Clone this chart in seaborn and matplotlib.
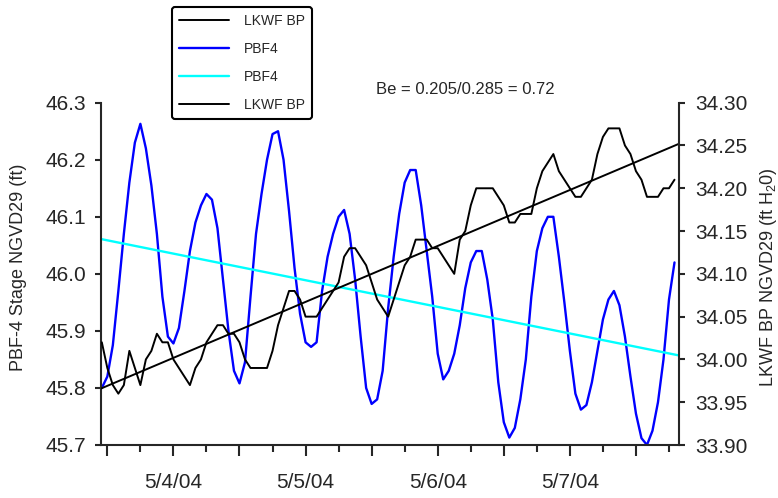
import numpy as np
import pandas as pd
import matplotlib
matplotlib.use("Agg")
import matplotlib.pyplot as plt
import matplotlib.dates as mdates
from matplotlib.ticker import FuncFormatter, MultipleLocator
from matplotlib.lines import Line2D
import seaborn as sns

# ---------------- data ----------------
start_time = "2004-05-03 11:00"   # hourly readings

pbf4_stage = [
    45.80, 45.82, 45.875, 45.97, 46.07, 46.16, 46.23, 46.263, 46.22, 46.155,
    46.07, 45.96, 45.89, 45.878, 45.905, 45.97, 46.04, 46.09, 46.12, 46.14,
    46.13, 46.08, 45.99, 45.90, 45.83, 45.808, 45.845, 45.96, 46.07, 46.14,
    46.20, 46.245, 46.25, 46.20, 46.11, 46.01, 45.93, 45.88, 45.872, 45.88,
    45.97, 46.03, 46.07, 46.10, 46.112, 46.07, 45.99, 45.89, 45.80, 45.772,
    45.78, 45.83, 45.94, 46.03, 46.105, 46.16, 46.182, 46.182, 46.12, 46.04,
    45.96, 45.86, 45.815, 45.83, 45.86, 45.91, 45.975, 46.02, 46.04, 46.04,
    45.99, 45.92, 45.81, 45.74, 45.713, 45.73, 45.78, 45.85, 45.96, 46.04,
    46.08, 46.10, 46.10, 46.03, 45.95, 45.865, 45.79, 45.762, 45.77, 45.81,
    45.865, 45.92, 45.955, 45.97, 45.945, 45.89, 45.82, 45.755, 45.712, 45.70,
    45.725, 45.775, 45.85, 45.955, 46.02,
]

lkwf_bp = [
    34.02, 33.99, 33.97, 33.96, 33.97, 34.01, 33.99, 33.97, 34.00, 34.01,
    34.03, 34.02, 34.02, 34.00, 33.99, 33.98, 33.97, 33.99, 34.00, 34.02,
    34.03, 34.04, 34.04, 34.03, 34.03, 34.02, 34.00, 33.99, 33.99, 33.99,
    33.99, 34.01, 34.04, 34.06, 34.08, 34.08, 34.07, 34.05, 34.05, 34.05,
    34.06, 34.07, 34.08, 34.09, 34.12, 34.13, 34.13, 34.12, 34.11, 34.09,
    34.07, 34.06, 34.05, 34.07, 34.09, 34.11, 34.12, 34.14, 34.14, 34.14,
    34.13, 34.13, 34.12, 34.11, 34.10, 34.14, 34.15, 34.18, 34.20, 34.20,
    34.20, 34.20, 34.19, 34.18, 34.16, 34.16, 34.17, 34.17, 34.17, 34.20,
    34.22, 34.23, 34.24, 34.22, 34.21, 34.20, 34.19, 34.19, 34.20, 34.21,
    34.24, 34.26, 34.27, 34.27, 34.27, 34.25, 34.24, 34.22, 34.21, 34.19,
    34.19, 34.19, 34.20, 34.20, 34.21,
]

trend_times = ["2004-05-03 10:51", "2004-05-07 19:49"]
pbf4_trend = [46.061, 45.857]
lkwf_trend = [33.966, 34.252]

legend_labels = ["LKWF BP", "PBF4", "PBF4", "LKWF BP"]
date_labels = ["5/4/04", "5/5/04", "5/6/04", "5/7/04"]
annotation = "Be = 0.205/0.285 = 0.72"

# ---------------- frames ----------------
times = pd.date_range(start_time, periods=len(pbf4_stage), freq="h")
df = pd.DataFrame({"time": times, "pbf4": pbf4_stage, "lkwf": lkwf_bp})
tr = pd.DataFrame({"time": pd.to_datetime(trend_times),
                   "pbf4": pbf4_trend, "lkwf": lkwf_trend})

# ---------------- style ----------------
sns.set_style("ticks")
plt.rcParams["font.family"] = ["Liberation Sans", "DejaVu Sans"]
plt.rcParams["mathtext.fontset"] = "custom"
plt.rcParams["mathtext.rm"] = "Liberation Sans"
plt.rcParams["mathtext.it"] = "Liberation Sans"
plt.rcParams["mathtext.default"] = "regular"

fig = plt.figure(figsize=(7.78, 4.98), dpi=100)
ax = fig.add_axes([101 / 778, 1 - 445 / 498, 578 / 778, 342.3 / 498])
ax2 = ax.twinx()

BLUE = "#0000FF"
CYAN = "#00FFFF"

sns.lineplot(data=df, x="time", y="pbf4", ax=ax, color=BLUE, linewidth=1.7,
             legend=False)
sns.lineplot(data=tr, x="time", y="pbf4", ax=ax, color=CYAN, linewidth=1.7,
             legend=False)
sns.lineplot(data=df, x="time", y="lkwf", ax=ax2, color="black", linewidth=1.4,
             legend=False)
sns.lineplot(data=tr, x="time", y="lkwf", ax=ax2, color="black", linewidth=1.4,
             legend=False)

xmin, xmax = pd.to_datetime(trend_times)
ax.set_xlim(xmin, xmax)
ax.set_ylim(45.7, 46.3)
ax2.set_ylim(33.90, 34.30)

ax.yaxis.set_major_locator(MultipleLocator(0.1))
ax.yaxis.set_major_formatter(FuncFormatter(lambda v, p: f"{v:.1f}"))
ax2.yaxis.set_major_locator(MultipleLocator(0.05))
ax2.yaxis.set_major_formatter(FuncFormatter(lambda v, p: f"{v:.2f}"))

ax.xaxis.set_major_locator(mdates.HourLocator(byhour=[0, 12]))
ax.xaxis.set_minor_locator(mdates.HourLocator(byhour=[6, 18]))


def date_fmt(v, pos):
    d = mdates.num2date(v)
    if d.hour == 0:
        lab = f"{d.month}/{d.day}/{d:%y}"
        return lab if lab in date_labels else ""
    return ""


ax.xaxis.set_major_formatter(FuncFormatter(date_fmt))

for a in (ax, ax2):
    a.set_xlabel("")
    for s in a.spines.values():
        s.set_linewidth(1.5)
    a.spines["top"].set_visible(False)

ax.spines["right"].set_visible(False)
ax2.spines["left"].set_visible(False)
ax2.spines["bottom"].set_visible(False)

ax.tick_params(axis="y", direction="out", length=4.5, width=1.5, labelsize=15,
               pad=6)
ax2.tick_params(axis="y", direction="out", length=4.5, width=1.5,
                labelsize=15, pad=7)
ax.tick_params(axis="x", which="major", direction="out", length=8, width=1.5,
               labelsize=15, pad=12)
ax.tick_params(axis="x", which="minor", direction="out", length=5, width=1.5)

ax.set_ylabel("PBF-4 Stage NGVD29 (ft)", fontsize=13)
ax.yaxis.set_label_coords(-0.128, 0.52)
ax2.set_ylabel(r"LKWF BP NGVD29 (ft H$_2$0)", fontsize=13, rotation=90)
ax2.yaxis.set_label_coords(1.137, 0.49)

fig.text(465 / 778, 1 - 89 / 498, annotation, ha="center", va="center",
         fontsize=12)

handles = [
    Line2D([], [], color="black", linewidth=1.4),
    Line2D([], [], color=BLUE, linewidth=1.7),
    Line2D([], [], color=CYAN, linewidth=1.7),
    Line2D([], [], color="black", linewidth=1.4),
]
leg = fig.legend(handles, legend_labels, loc="upper left",
                 bbox_to_anchor=(172 / 778, 1 - 7 / 498), borderaxespad=0,
                 fontsize=10, frameon=True, fancybox=True, handlelength=3.6,
                 handletextpad=1.1, labelspacing=1.0, borderpad=0.5)
fr = leg.get_frame()
fr.set_edgecolor("black")
fr.set_linewidth(1.5)
fr.set_alpha(1)

fig.savefig("out.png", dpi=100)
